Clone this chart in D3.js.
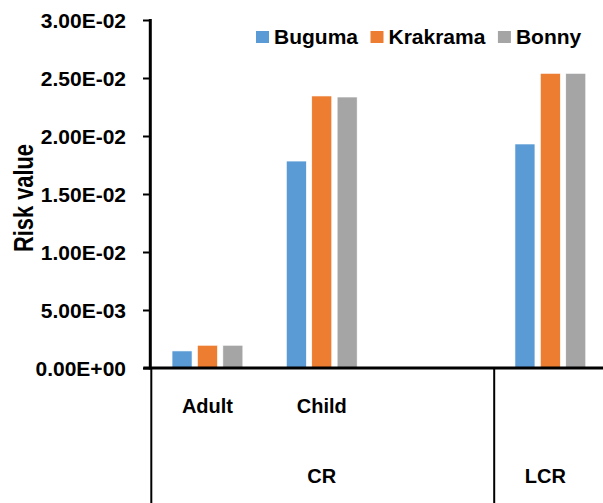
<!DOCTYPE html>
<html>
<head>
<meta charset="utf-8">
<script src="https://cdn.jsdelivr.net/npm/d3@7"></script>
<style>
  html, body { margin: 0; padding: 0; background: #fff; }
  svg text { font-family: "Liberation Sans", Arial, sans-serif; font-weight: bold; fill: #000; }
</style>
</head>
<body>
<svg id="chart" width="603" height="503"></svg>
<script>
// ---- data ----
const categories = ["Adult", "Child", "", ""];
const groups = ["CR", "CR", "CR", "LCR"];
const seriesNames = ["Buguma", "Krakrama", "Bonny"];
const seriesColors = ["#5B9BD5", "#ED7D31", "#A5A5A5"];
const buguma   = [0.00147, 0.01784, null, 0.01931];
const krakrama = [0.00196, 0.02345, null, 0.02540];
const bonny    = [0.00196, 0.02336, null, 0.02540];
const yTicks = [0, 0.005, 0.01, 0.015, 0.02, 0.025, 0.03];
const yTitle = "Risk value";

const seriesValues = [buguma, krakrama, bonny];

const svg = d3.select("#chart");
const plotLeft = 150.3, plotRight = 607.5, plotTop = 20, zeroY = 368;

const catIds = categories.map((c, i) => i);
const x = d3.scaleBand().domain(catIds).range([plotLeft, plotRight]).paddingInner(0).paddingOuter(0);
const groupW = 70.8;
const x1 = d3.scaleBand().domain(seriesNames).range([0, groupW]).paddingInner(0.213).paddingOuter(0);
const y = d3.scaleLinear().domain([0, 0.03]).range([zeroY, plotTop]);

function sci(d) {
  if (d === 0) return "0.00E+00";
  const s = d3.format(".2e")(d); // e.g. 3.00e-2
  const [m, e] = s.split("e");
  const ev = parseInt(e, 10);
  const sign = ev < 0 ? "-" : "+";
  return m + "E" + sign + String(Math.abs(ev)).padStart(2, "0");
}

// bars
const barG = svg.append("g");
catIds.forEach(ci => {
  seriesNames.forEach((s, si) => {
    const v = seriesValues[si][ci];
    if (v == null) return;
    barG.append("rect")
      .attr("x", x(ci) + (x.bandwidth() - groupW) / 2 + x1(s))
      .attr("y", y(v))
      .attr("width", x1.bandwidth())
      .attr("height", y(0) - y(v))
      .attr("fill", seriesColors[si])
      .attr("stroke", "#fff")
      .attr("stroke-width", 0.6);
  });
});

// y axis
const yAxis = d3.axisLeft(y).tickValues(yTicks).tickFormat(sci).tickSize(7).tickPadding(17);
const yg = svg.append("g").attr("transform", `translate(${plotLeft - 0.3},0)`).call(yAxis);
yg.select(".domain").remove();
yg.selectAll(".tick line").attr("stroke", "#000").attr("stroke-width", 2);
yg.selectAll(".tick text").style("font-size", "21px").attr("dy", "0.37em");
svg.append("line").attr("x1", plotLeft).attr("x2", plotLeft).attr("y1", plotTop - 1).attr("y2", zeroY + 1.5)
  .attr("stroke", "#000").attr("stroke-width", 3);

// x axis baseline
svg.append("line").attr("x1", plotLeft - 7).attr("x2", 603).attr("y1", zeroY).attr("y2", zeroY)
  .attr("stroke", "#000").attr("stroke-width", 3);

// multi-level category axis
const xg = svg.append("g");
catIds.forEach(ci => {
  xg.append("text")
    .attr("x", x(ci) + x.bandwidth() / 2)
    .attr("y", 413)
    .attr("text-anchor", "middle")
    .style("font-size", "20px")
    .text(categories[ci]);
});
// group spans
const groupSpans = [];
groups.forEach((g, i) => {
  const last = groupSpans[groupSpans.length - 1];
  if (last && last.name === g) last.end = i;
  else groupSpans.push({ name: g, start: i, end: i });
});
groupSpans.forEach(gs => {
  const x0 = x(gs.start), xe = x(gs.end) + x.bandwidth();
  xg.append("line").attr("x1", x0 + 1).attr("x2", x0 + 1).attr("y1", zeroY).attr("y2", 503)
    .attr("stroke", "#000").attr("stroke-width", 2);
  xg.append("text")
    .attr("x", (x0 + xe) / 2 + (gs.name === "LCR" ? -5 : 0))
    .attr("y", 483)
    .attr("text-anchor", "middle")
    .style("font-size", "20px")
    .text(gs.name);
});

// y title
svg.append("text")
  .attr("transform", `translate(33,198) rotate(-90)`)
  .attr("text-anchor", "middle")
  .attr("textLength", 108)
  .attr("lengthAdjust", "spacingAndGlyphs")
  .style("font-size", "27px")
  .text(yTitle);

// legend
const lg = svg.append("g");
let lx = 256;
seriesNames.forEach((s, i) => {
  lg.append("rect").attr("x", lx).attr("y", 31).attr("width", 13).attr("height", 12).attr("fill", seriesColors[i]);
  const t = lg.append("text").attr("x", lx + 18).attr("y", 44).style("font-size", "21px").text(s);
  lx += 18 + t.node().getComputedTextLength() + 12.5;
});
</script>
</body>
</html>
